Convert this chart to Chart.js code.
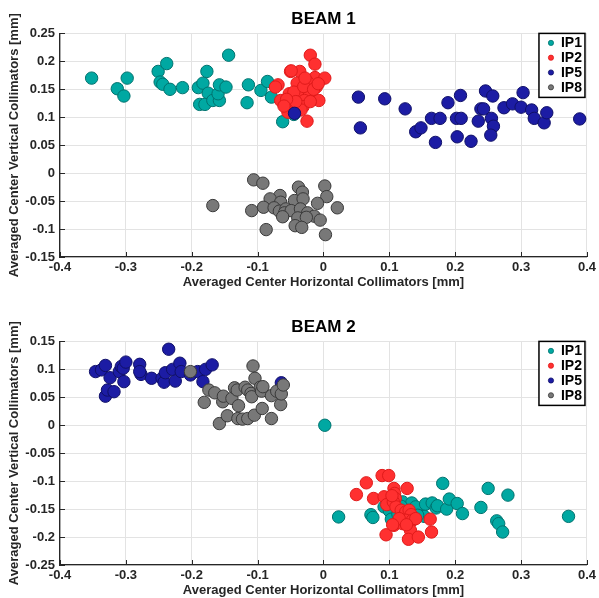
<!DOCTYPE html>
<html lang="en">
<head>
<meta charset="UTF-8">
<title>Collimator centers</title>
<script src="https://cdn.jsdelivr.net/npm/chart.js"></script>
<style>
  html, body { margin: 0; padding: 0; background: #fff; }
  .plot { position: absolute; left: 0; width: 599px; height: 290px; }
  #beam1 { top: 0; }
  #beam2 { top: 308px; }
</style>
</head>
<body>
<div class="plot" id="beam1"><canvas id="chart1"></canvas></div>
<div class="plot" id="beam2"><canvas id="chart2"></canvas></div>

<script>
// averaged centers [horizontal, vertical] in mm, per IP
const b1IP1 = [[-0.352,0.170],[-0.313,0.151],[-0.303,0.138],[-0.298,0.170],[-0.251,0.182],[-0.238,0.196],[-0.248,0.163],[-0.244,0.159],[-0.233,0.150],[-0.214,0.153],[-0.190,0.153],[-0.183,0.161],[-0.177,0.182],[-0.175,0.143],[-0.188,0.123],[-0.180,0.123],[-0.168,0.130],[-0.158,0.130],[-0.160,0.142],[-0.158,0.158],[-0.148,0.154],[-0.144,0.211],[-0.114,0.158],[-0.116,0.126],[-0.095,0.148],[-0.085,0.164],[-0.079,0.136],[-0.062,0.092],[-0.045,0.105]];
const b1IP2 = [[-0.020,0.211],[-0.013,0.195],[-0.050,0.182],[-0.036,0.182],[-0.013,0.171],[0.002,0.170],[-0.069,0.158],[-0.073,0.154],[-0.040,0.161],[-0.024,0.163],[-0.011,0.154],[-0.034,0.148],[-0.052,0.142],[-0.039,0.138],[-0.021,0.142],[-0.065,0.130],[-0.029,0.130],[-0.007,0.130],[-0.045,0.123],[-0.031,0.119],[-0.054,0.109],[-0.034,0.113],[-0.025,0.093],[-0.045,0.145],[-0.030,0.155],[-0.020,0.128],[-0.042,0.128],[-0.015,0.150],[-0.056,0.132],[-0.060,0.120],[-0.049,0.183],[-0.028,0.170],[-0.008,0.160]];
const b1IP5 = [[-0.044,0.107],[0.053,0.136],[0.056,0.081],[0.093,0.133],[0.124,0.115],[0.140,0.074],[0.148,0.081],[0.164,0.098],[0.177,0.098],[0.170,0.055],[0.189,0.126],[0.208,0.139],[0.202,0.098],[0.209,0.098],[0.203,0.065],[0.224,0.057],[0.235,0.093],[0.239,0.115],[0.243,0.115],[0.246,0.147],[0.257,0.138],[0.255,0.098],[0.258,0.084],[0.254,0.068],[0.274,0.117],[0.287,0.124],[0.300,0.118],[0.303,0.144],[0.316,0.113],[0.320,0.098],[0.335,0.090],[0.339,0.108],[0.389,0.097]];
const b1IP8 = [[-0.106,-0.012],[-0.092,-0.018],[-0.038,-0.025],[-0.032,-0.034],[0.002,-0.023],[0.005,-0.042],[-0.066,-0.040],[-0.081,-0.046],[-0.168,-0.058],[-0.109,-0.067],[-0.091,-0.061],[-0.065,-0.052],[-0.044,-0.049],[-0.031,-0.046],[-0.009,-0.054],[0.021,-0.062],[-0.075,-0.062],[-0.067,-0.068],[-0.057,-0.064],[-0.059,-0.071],[-0.049,-0.067],[-0.035,-0.064],[-0.024,-0.071],[-0.014,-0.077],[-0.005,-0.084],[-0.062,-0.078],[-0.039,-0.080],[-0.026,-0.079],[-0.043,-0.094],[-0.033,-0.097],[-0.087,-0.101],[0.003,-0.110]];

const b2IP1 = [[0.002,0.000],[0.023,-0.164],[0.072,-0.160],[0.075,-0.165],[0.092,-0.146],[0.100,-0.153],[0.103,-0.168],[0.120,-0.137],[0.134,-0.139],[0.148,-0.155],[0.140,-0.146],[0.153,-0.163],[0.155,-0.141],[0.165,-0.139],[0.171,-0.148],[0.173,-0.144],[0.181,-0.104],[0.187,-0.150],[0.191,-0.132],[0.203,-0.140],[0.211,-0.158],[0.239,-0.147],[0.250,-0.113],[0.263,-0.171],[0.266,-0.176],[0.272,-0.191],[0.280,-0.125],[0.372,-0.163],[0.113,-0.159],[0.143,-0.161],[0.118,-0.145]];
const b2IP2 = [[0.050,-0.124],[0.065,-0.103],[0.076,-0.131],[0.089,-0.090],[0.099,-0.090],[0.092,-0.128],[0.096,-0.142],[0.107,-0.113],[0.108,-0.122],[0.109,-0.131],[0.106,-0.137],[0.110,-0.146],[0.127,-0.113],[0.095,-0.196],[0.107,-0.179],[0.118,-0.152],[0.123,-0.161],[0.125,-0.155],[0.130,-0.152],[0.133,-0.160],[0.120,-0.176],[0.125,-0.170],[0.135,-0.170],[0.140,-0.167],[0.132,-0.188],[0.129,-0.204],[0.144,-0.200],[0.162,-0.168],[0.164,-0.191],[0.115,-0.167],[0.105,-0.178],[0.126,-0.178],[0.104,-0.126]];
const b2IP5 = [[-0.346,0.096],[-0.337,0.099],[-0.331,0.107],[-0.324,0.085],[-0.331,0.052],[-0.328,0.063],[-0.318,0.060],[-0.310,0.096],[-0.307,0.105],[-0.303,0.078],[-0.304,0.102],[-0.300,0.113],[-0.279,0.109],[-0.277,0.091],[-0.279,0.096],[-0.261,0.084],[-0.245,0.084],[-0.242,0.077],[-0.240,0.094],[-0.235,0.136],[-0.229,0.100],[-0.225,0.079],[-0.218,0.111],[-0.216,0.096],[-0.202,0.090],[-0.191,0.096],[-0.183,0.078],[-0.179,0.100],[-0.169,0.108],[-0.064,0.076]];
const b2IP8 = [[-0.202,0.096],[-0.174,0.063],[-0.165,0.058],[-0.181,0.041],[-0.153,0.042],[-0.152,0.052],[-0.158,0.003],[-0.146,0.017],[-0.139,0.048],[-0.135,0.067],[-0.131,0.063],[-0.129,0.035],[-0.130,0.012],[-0.123,0.011],[-0.119,0.068],[-0.115,0.063],[-0.115,0.012],[-0.110,0.057],[-0.109,0.051],[-0.107,0.106],[-0.105,0.018],[-0.104,0.084],[-0.096,0.068],[-0.094,0.061],[-0.092,0.069],[-0.093,0.030],[-0.079,0.012],[-0.079,0.053],[-0.071,0.061],[-0.065,0.037],[-0.064,0.056],[-0.061,0.072]];

const ipLabels = ['IP1', 'IP2', 'IP5', 'IP8'];
const xTicks = [-0.4, -0.3, -0.2, -0.1, 0, 0.1, 0.2, 0.3, 0.4];
const beam1YTicks = [-0.15, -0.1, -0.05, 0, 0.05, 0.1, 0.15, 0.2, 0.25];
const beam2YTicks = [-0.25, -0.2, -0.15, -0.1, -0.05, 0, 0.05, 0.1, 0.15];

const ipColors = [
    { fill: '#00a8a2', line: '#00736f' },
    { fill: '#ff3030', line: '#e01a1a' },
    { fill: '#1c1ca4', line: '#101068' },
    { fill: '#787878', line: '#3a3a3a' }
];
const axisColor = '#262626';
const FONT = '"Liberation Sans", Arial, sans-serif';

function fmt(v) { return String(Math.round(v * 100) / 100); }

function toPoints(arr) { return arr.map(p => ({ x: p[0], y: p[1] })); }

// short tick marks pointing into the plot, plus the boxed legend
const innerTicks = {
    id: 'innerTicks',
    afterDraw(chart) {
        const ctx = chart.ctx, a = chart.chartArea;
        const sx = chart.scales.x, sy = chart.scales.y;
        ctx.save();
        ctx.strokeStyle = axisColor;
        ctx.lineWidth = 1;
        ctx.beginPath();
        sx.ticks.forEach(t => {
            const px = Math.round(sx.getPixelForValue(t.value)) + 0.5;
            ctx.moveTo(px, a.bottom); ctx.lineTo(px, a.bottom - 5);
        });
        sy.ticks.forEach(t => {
            const py = Math.round(sy.getPixelForValue(t.value)) + 0.5;
            ctx.moveTo(a.left, py); ctx.lineTo(a.left + 5, py);
        });
        ctx.stroke();

        // legend
        const bw = 46, bh = 64;
        const bx = a.right - 2 - bw, by = a.top;
        ctx.fillStyle = '#fff';
        ctx.fillRect(bx, by, bw, bh);
        ctx.strokeStyle = '#000';
        ctx.lineWidth = 1.5;
        ctx.strokeRect(bx, by, bw, bh);
        ctx.font = 'bold 14px ' + FONT;
        ctx.textBaseline = 'middle';
        ctx.textAlign = 'left';
        chart.data.datasets.forEach((ds, i) => {
            const cy = by + 9.5 + i * 14.8;
            ctx.beginPath();
            ctx.arc(bx + 12, cy, 2.6, 0, Math.PI * 2);
            ctx.fillStyle = ds.backgroundColor;
            ctx.fill();
            ctx.lineWidth = 0.8;
            ctx.strokeStyle = ds.borderColor;
            ctx.stroke();
            ctx.fillStyle = '#000';
            ctx.fillText(ds.label, bx + 22, cy + 0.5);
        });
        ctx.restore();
    }
};

function makeBeam(canvasId, title, series, yTicks) {
    return new Chart(document.getElementById(canvasId), {
        type: 'scatter',
        data: {
            datasets: series.map((s, i) => ({
                label: ipLabels[i],
                data: toPoints(s),
                backgroundColor: ipColors[i].fill,
                borderColor: ipColors[i].line,
                borderWidth: 1,
                pointRadius: 6.2,
                pointHoverRadius: 6.2,
                order: series.length - i
            }))
        },
        options: {
            responsive: true,
            maintainAspectRatio: false,
            animation: false,
            layout: { padding: { left: 0, right: 11, top: 0, bottom: 0 } },
            plugins: {
                legend: { display: false },
                tooltip: { enabled: false },
                title: {
                    display: true,
                    text: title,
                    fullSize: false,
                    color: '#000',
                    font: { family: FONT, size: 17, weight: 'bold', lineHeight: 1.2 },
                    padding: { top: 9, bottom: 4 }
                }
            },
            scales: {
                x: {
                    type: 'linear',
                    min: xTicks[0],
                    max: xTicks[xTicks.length - 1],
                    afterBuildTicks: s => { s.ticks = xTicks.map(v => ({ value: v })); },
                    afterFit: s => { s.height = 33; },
                    grid: { color: '#e3e3e3', drawTicks: false },
                    border: { color: axisColor, width: 1.3 },
                    ticks: {
                        color: axisColor,
                        padding: 3,
                        maxRotation: 0,
                        autoSkip: false,
                        font: { family: FONT, size: 13, weight: 'bold' },
                        callback: v => fmt(v)
                    },
                    title: {
                        display: true,
                        text: 'Averaged Center Horizontal Collimators [mm]',
                        color: axisColor,
                        padding: { top: 0, bottom: 0 },
                        font: { family: FONT, size: 13, weight: 'bold' }
                    }
                },
                y: {
                    type: 'linear',
                    min: yTicks[0],
                    max: yTicks[yTicks.length - 1],
                    afterBuildTicks: s => { s.ticks = yTicks.map(v => ({ value: v })); },
                    afterFit: s => { s.width = 60; },
                    grid: { color: '#e3e3e3', drawTicks: false },
                    border: { color: axisColor, width: 1.3 },
                    ticks: {
                        color: axisColor,
                        padding: 5,
                        autoSkip: false,
                        font: { family: FONT, size: 13, weight: 'bold' },
                        callback: v => fmt(v)
                    },
                    title: {
                        display: true,
                        text: 'Averaged Center Vertical Collimators [mm]',
                        color: axisColor,
                        padding: { top: 7, bottom: 0 },
                        font: { family: FONT, size: 13, weight: 'bold' }
                    }
                }
            }
        },
        plugins: [innerTicks]
    });
}

makeBeam('chart1', 'BEAM 1', [b1IP1, b1IP2, b1IP5, b1IP8], beam1YTicks);
makeBeam('chart2', 'BEAM 2', [b2IP1, b2IP2, b2IP5, b2IP8], beam2YTicks);
</script>
</body>
</html>
